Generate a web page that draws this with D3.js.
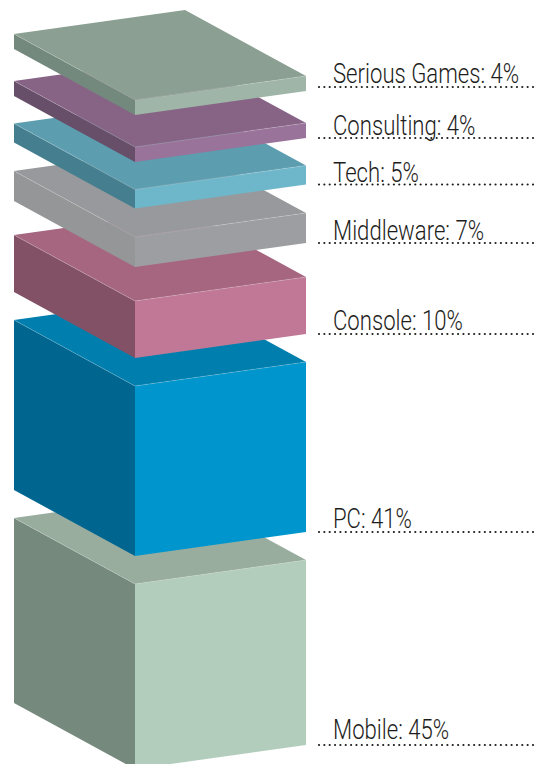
<!DOCTYPE html>
<html>
<head>
<meta charset="utf-8">
<script src="https://cdnjs.cloudflare.com/ajax/libs/d3/7.8.5/d3.min.js"></script>
<style>
  html, body { margin: 0; padding: 0; background: #fff; }
  svg { display: block; }
  .label { font-family: "Roboto", sans-serif; font-weight: 300; fill: #1d1d1b; }
</style>
</head>
<body>
<svg id="chart" width="543" height="764"></svg>
<script>
// Market share by segment, listed from the top of the stack down
const segments = ["Serious Games", "Consulting", "Tech", "Middleware", "Console", "PC", "Mobile"];
const shares = [4, 4, 5, 7, 10, 41, 45];

// Face colours per segment
const frontColors = ["#9fb5a7", "#99739a", "#6eb7ca", "#9d9ea2", "#c07896", "#0096cd", "#b2cdbb"];
const sideColors = ["#74897d", "#674e69", "#457f8f", "#959698", "#825166", "#006690", "#76897d"];
const topColors = ["#8ba092", "#876486", "#5d9db0", "#98999c", "#a66680", "#007fae", "#99ad9f"];

// Vertical space between one block and the next
const gaps = [32, 27.5, 28.5, 34, 28, 28];

// Distance from each leader line up to its label's baseline
const labelLifts = [4.5, 3, 3, 3.5, 4, 4, 6];

// Block thickness as a function of share
const thickness = d3.scaleLinear()
  .domain([0, 4, 5, 7, 10, 41, 45])
  .range([0, 15, 19, 30, 57, 170, 185]);

// Projection of the block footprint
const depth = d3.scalePoint().domain(["left", "front"]).range([14, 135]);
const width = d3.scalePoint().domain(["front", "right"]).range([135, 306]);
const backX = 185;
const rise = { front: 66, right: 42, back: -24 };

const stackTop = 34;
const svg = d3.select("#chart");
const outline = d3.line();

// Work out each block's upper-left corner by walking down the stack
let cursor = stackTop;
const blocks = segments.map((name, i) => {
  const h = thickness(shares[i]);
  const block = { name, share: shares[i], y: cursor, h, i };
  cursor += h + (gaps[i] || 0);
  return block;
});

const xL = depth("left"), xF = depth("front"), xR = width("right");

// Paint from the bottom of the stack upward so upper blocks overlap lower ones
const g = svg.selectAll("g.block")
  .data(blocks.slice().reverse())
  .join("g")
  .attr("class", "block");

g.append("path")
  .attr("fill", d => sideColors[d.i])
  .attr("d", d => outline([[xL, d.y], [xF, d.y + rise.front], [xF, d.y + rise.front + d.h], [xL, d.y + d.h]]) + "Z");

g.append("path")
  .attr("fill", d => frontColors[d.i])
  .attr("d", d => outline([[xF, d.y + rise.front], [xR, d.y + rise.right], [xR, d.y + rise.right + d.h], [xF, d.y + rise.front + d.h]]) + "Z");

g.append("path")
  .attr("fill", d => topColors[d.i])
  .attr("d", d => outline([[xL, d.y], [backX, d.y + rise.back], [xR, d.y + rise.right], [xF, d.y + rise.front]]) + "Z");

// Pale seam along the upper edges of each block
g.append("path")
  .attr("fill", "none")
  .attr("stroke", "#fff")
  .attr("stroke-opacity", 0.25)
  .attr("stroke-width", 0.7)
  .attr("d", d => outline([[xL, d.y], [xF, d.y + rise.front], [xR, d.y + rise.right]]));

// Leader lines and labels
const leaderStart = 319, leaderEnd = 534, labelX = 333;
const leaderY = d => d.y + rise.right + d.h - (d.i === 0 ? 4 : 0);

const labels = svg.selectAll("g.callout")
  .data(blocks)
  .join("g")
  .attr("class", "callout");

labels.append("line")
  .attr("x1", leaderStart)
  .attr("x2", leaderEnd)
  .attr("y1", leaderY)
  .attr("y2", leaderY)
  .attr("stroke", "#1d1d1b")
  .attr("stroke-width", 2.2)
  .attr("stroke-linecap", "round")
  .attr("stroke-dasharray", "0 5.35");

labels.append("text")
  .attr("class", "label")
  .attr("transform", d => `translate(${labelX},${leaderY(d) - labelLifts[d.i]}) scale(0.82,1)`)
  .attr("font-size", 27)
  .text(d => `${d.name}: ${d.share}%`);
</script>
</body>
</html>
